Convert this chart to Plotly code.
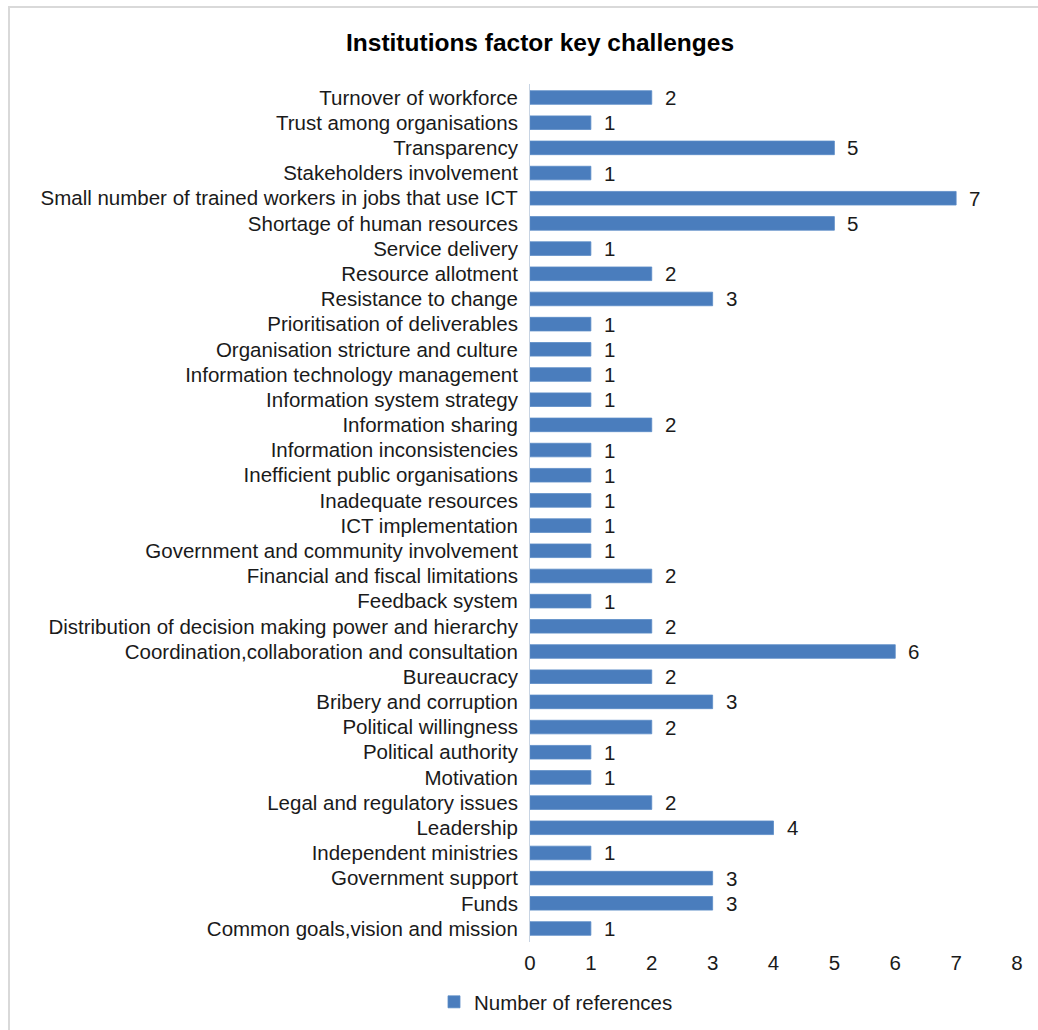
import plotly.graph_objects as go

# Challenges, listed top to bottom as they appear on the chart
categories = [
    "Turnover of workforce",
    "Trust among organisations",
    "Transparency",
    "Stakeholders involvement",
    "Small number of trained workers in jobs that use ICT",
    "Shortage of human resources",
    "Service delivery",
    "Resource allotment",
    "Resistance to change",
    "Prioritisation of deliverables",
    "Organisation stricture and culture",
    "Information technology management",
    "Information system strategy",
    "Information sharing",
    "Information inconsistencies",
    "Inefficient public organisations",
    "Inadequate resources",
    "ICT implementation",
    "Government and community involvement",
    "Financial and fiscal limitations",
    "Feedback system",
    "Distribution of decision making power and hierarchy",
    "Coordination,collaboration and consultation",
    "Bureaucracy",
    "Bribery and corruption",
    "Political willingness",
    "Political authority",
    "Motivation",
    "Legal and regulatory issues",
    "Leadership",
    "Independent ministries",
    "Government support",
    "Funds",
    "Common goals,vision and mission",
]

references = [2, 1, 5, 1, 7, 5, 1, 2, 3, 1, 1, 1, 1, 2, 1, 1, 1, 1, 1, 2, 1, 2,
              6, 2, 3, 2, 1, 1, 2, 4, 1, 3, 3, 1]

x_ticks = [0, 1, 2, 3, 4, 5, 6, 7, 8]

FONT = "Liberation Sans, Arial, sans-serif"
TEXT_SIZE = 20.5
TEXT_COLOR = "#1a1a1a"
BAR_COLOR = "#4A7DBD"

fig = go.Figure()
fig.add_trace(go.Bar(
    x=references,
    y=categories,
    orientation="h",
    name="Number of references",
    marker=dict(color=BAR_COLOR, line=dict(color="#5B8CC6", width=0.8)),
    showlegend=True,
))

# value labels just beyond the end of each bar
for cat, val in zip(categories, references):
    fig.add_annotation(
        x=val, y=cat, xref="x", yref="y",
        text=str(val), showarrow=False,
        xanchor="left", xshift=11,
        font=dict(family=FONT, size=TEXT_SIZE, color=TEXT_COLOR),
    )

# thin frame around the chart area
fig.add_shape(type="rect", xref="paper", yref="paper",
              x0=(9 - 530) / 487, x1=(1046 - 530) / 487,
              y0=(942 - 1040) / 858, y1=(942 - 7) / 858,
              line=dict(color="#d9d9d9", width=2), layer="below")

fig.update_layout(
    width=1038,
    height=1030,
    margin=dict(l=530, r=21, t=84, b=88, autoexpand=False),
    paper_bgcolor="white",
    plot_bgcolor="white",
    bargap=0.46,
    font=dict(family=FONT, size=TEXT_SIZE, color=TEXT_COLOR),
    title=dict(
        text="<b>Institutions factor key challenges</b>",
        x=540 / 1038, xanchor="center", xref="container",
        y=1 - 42 / 1030, yanchor="middle", yref="container",
        font=dict(family=FONT, size=24.5, color="#000000"),
    ),
    xaxis=dict(
        range=[0, 8],
        tickvals=x_ticks,
        showgrid=False,
        zeroline=False,
        showline=False,
        ticks="",
        ticklabelstandoff=6,
        tickfont=dict(family=FONT, size=TEXT_SIZE, color=TEXT_COLOR),
        automargin=False,
        fixedrange=True,
    ),
    yaxis=dict(
        autorange="reversed",
        showgrid=False,
        showline=True,
        linecolor="#c8d4e3",
        linewidth=1,
        ticks="",
        ticklabelstandoff=7,
        tickfont=dict(family=FONT, size=TEXT_SIZE, color=TEXT_COLOR),
        automargin=False,
    ),
    legend=dict(
        orientation="h",
        x=556 / 1038, xanchor="center", xref="container",
        y=1 - 1002 / 1030, yanchor="middle", yref="container",
        font=dict(family=FONT, size=TEXT_SIZE, color=TEXT_COLOR),
        itemwidth=30,
    ),
)

fig.write_html("out.html")
